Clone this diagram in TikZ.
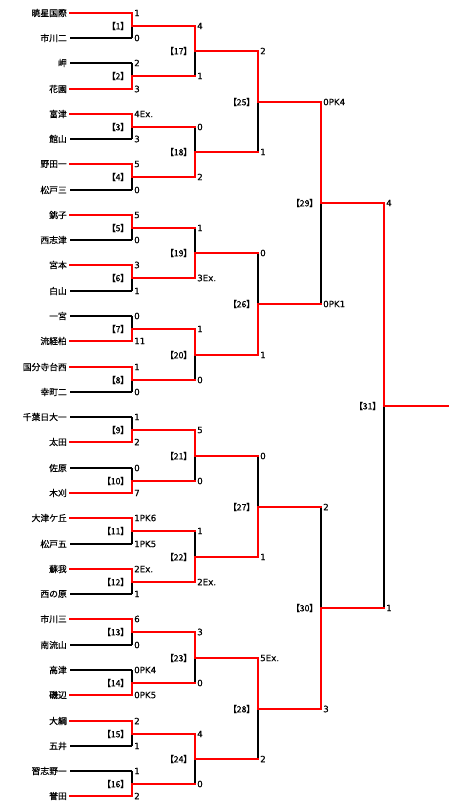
\documentclass[tikz,border=0pt]{standalone}
\usepackage{fontspec}
\newfontfamily\jp[FakeBold=0.6]{Noto Sans CJK JP}
\newfontfamily\jpp[RawFeature=+palt,FakeBold=0.5]{Noto Sans CJK JP}
\newfontfamily\numf[FakeBold=0.4]{DejaVu Sans}
\usetikzlibrary{calc}
\tikzset{
  teamname/.style={anchor=east, inner sep=0pt, font=\jp\fontsize{8.8}{9}\selectfont},
  score/.style={anchor=west, inner sep=0pt, xshift=2pt, font=\numf\fontsize{8.7}{9}\selectfont},
  matchlabel/.style={anchor=east, inner sep=0pt, xshift=-7pt, font=\jpp\fontsize{8.7}{9}\selectfont},
  lose/.style={draw=black, line width=1.1pt},
  win/.style={draw=red, line width=2pt, line cap=rect},
}
\begin{document}
\begin{tikzpicture}[x=1pt,y=-1pt]
\useasboundingbox (0,0) rectangle (460,811);
\foreach \name [count=\i] in {暁星国際,市川二,岬,花園,富津,館山,野田一,松戸三,銚子,西志津,宮本,白山,一宮,流経柏,国分寺台西,幸町二,千葉日大一,太田,佐原,木刈,大津ケ丘,松戸五,蘇我,西の原,市川三,南流山,高津,磯辺,大綱,五井,習志野一,誉田} {
  \node[teamname] (N\i) at (67, {round(12.7+25.28*(\i-1))}) {\name};
  \coordinate (T\i) at (70, {round(12.7+25.28*(\i-1))});
}
\foreach \m/\w/\sa/\sb in {1/a/1/0, 2/b/2/3, 3/a/4Ex./3, 4/a/5/0, 5/a/5/0, 6/a/3/1, 7/b/0/11, 8/a/1/0, 9/b/1/2, 10/b/0/7, 11/a/1PK6/1PK5, 12/a/2Ex./1, 13/a/6/0, 14/b/0PK4/0PK5, 15/a/2/1, 16/b/1/2, 17/a/4/1, 18/b/0/2, 19/b/1/3Ex., 20/a/1/0, 21/a/5/0, 22/b/1/2Ex., 23/a/3/0, 24/a/4/0, 25/a/2/1, 26/b/0/1, 27/b/0/1, 28/a/5Ex./2, 29/a/0PK4/0PK1, 30/b/2/3, 31/a/4/1} {
  \ifnum\m<17
    \pgfmathtruncatemacro\fa{2*\m-1}\pgfmathtruncatemacro\fb{2*\m}
    \def\pa{T\fa}\def\pb{T\fb}\def\dx{62}
  \else
    \pgfmathtruncatemacro\fa{2*\m-33}\pgfmathtruncatemacro\fb{2*\m-32}
    \def\pa{M\fa}\def\pb{M\fb}\def\dx{63}
  \fi
  \coordinate (M\m-a) at ([xshift=\dx pt]\pa);
  \coordinate (M\m-b) at ([xshift=\dx pt]\pb);
  \path let \p1=(M\m-a), \p2=(M\m-b), \n1={round((\y1+\y2)/2)} in coordinate (M\m) at (\x1, \n1);
  \draw[lose] (M\m-a) -- (M\m-b);
  \ifnum\m<17
    \draw[lose] (\pa) -- (M\m-a);
    \draw[lose] (\pb) -- (M\m-b);
  \else
    \draw[win] (\pa) -- (M\m-a);
    \draw[win] (\pb) -- (M\m-b);
  \fi
  \if\w a
    \draw[win] (\pa) -- (M\m-a) -- (M\m);
  \else
    \draw[win] (\pb) -- (M\m-b) -- (M\m);
  \fi
  \node[score] (S\m a) at (M\m-a) {\sa};
  \node[score] (S\m b) at (M\m-b) {\sb};
  \node[matchlabel] (L\m) at (M\m) {【\m】};
}
\coordinate (champ) at ([xshift=64pt]M31);
\draw[win] (M31) -- (champ);
\end{tikzpicture}
\end{document}
